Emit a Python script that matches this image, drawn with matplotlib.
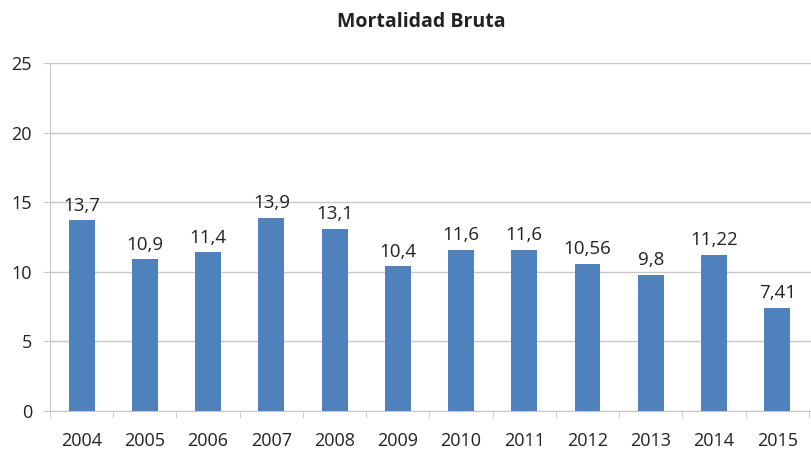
import numpy as np
import matplotlib.pyplot as plt

plt.rcParams['font.family'] = ['Open Sans', 'DejaVu Sans']

years = ['2004', '2005', '2006', '2007', '2008', '2009', '2010', '2011',
         '2012', '2013', '2014', '2015']
values = [13.7, 10.9, 11.4, 13.9, 13.1, 10.4, 11.6, 11.6, 10.56, 9.8, 11.22, 7.41]
labels = ['13,7', '10,9', '11,4', '13,9', '13,1', '10,4', '11,6', '11,6',
          '10,56', '9,8', '11,22', '7,41']

fig = plt.figure(figsize=(8.12, 4.51), dpi=100)
ax = fig.add_axes([50 / 812, 40 / 451, 1 - 50 / 812, (411 - 63) / 451])

x = np.arange(len(years))
bars = ax.bar(x, values, width=0.41, color='#4F81BD', zorder=3)

for xi, v, lab in zip(x, values, labels):
    ax.annotate(lab, (xi, v), textcoords='offset points', xytext=(0, 4),
                ha='center', va='bottom', fontsize=13.5, color='#222222')

ax.set_ylim(0, 25)
ax.set_yticks([0, 5, 10, 15, 20, 25])
ax.set_xlim(-0.5, 11.55)
ax.set_xticks(x)
ax.set_xticklabels(years)
ax.set_xticks(np.arange(-0.5, 12, 1), minor=True)

ax.yaxis.grid(True, color='#c8c8c8', linewidth=1, zorder=0)
ax.tick_params(axis='both', labelsize=13, labelcolor='#222222')
ax.tick_params(axis='y', length=5, color='#c8c8c8', pad=8)
ax.tick_params(axis='x', which='major', length=0, pad=15)
ax.tick_params(axis='x', which='minor', length=5, color='#c8c8c8')

for s in ['top', 'right']:
    ax.spines[s].set_visible(False)
for s in ['left', 'bottom']:
    ax.spines[s].set_color('#c8c8c8')

fig.suptitle('Mortalidad Bruta', x=421 / 812, y=1 - 22 / 451, va='center',
             fontsize=14, fontweight='bold', color='#222222')

fig.savefig('out.png', dpi=100)
